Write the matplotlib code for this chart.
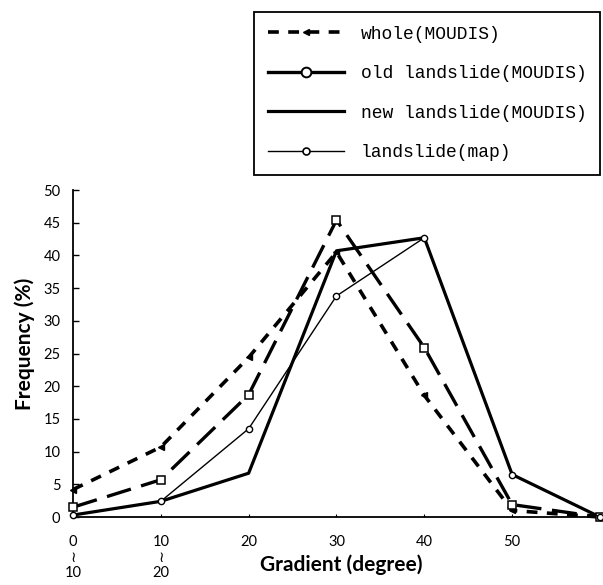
import matplotlib
matplotlib.use("Agg")
import matplotlib.pyplot as plt
from matplotlib.lines import Line2D

# Slope classes (degrees), lower bound of each 10 degree class
gradient = [0, 10, 20, 30, 40, 50, 60]
tick_pos = [0, 10, 20, 30, 40, 50]
tick_labels = ["0\n\u2240\n10", "10\n\u2240\n20", "20", "30", "40", "50"]

# Frequency (%)
whole_moudis = [4.2, 10.7, 24.4, 40.5, 18.6, 1.0, 0.0]
old_moudis = [1.5, 5.7, 18.7, 45.4, 25.9, 1.9, 0.0]
new_moudis = [0.3, 2.4, 6.7, 40.7, 42.7, 6.5, 0.0]
map_slide = [0.3, 2.4, 13.5, 33.8, 42.7, 6.5, 0.0]

labels = ["whole(MOUDIS)", "old landslide(MOUDIS)",
          "new landslide(MOUDIS)", "landslide(map)"]

sans = ["Lato", "DejaVu Sans"]

fig = plt.figure(figsize=(6.03, 5.85), dpi=100)
ax = fig.add_axes([0.121, 0.1162, 0.874, 0.559])

ax.plot(gradient, whole_moudis, color="black", lw=2.6, ls=(0, (3, 2.6)),
        marker="<", ms=4.5, mfc="black", clip_on=False, zorder=3)
ax.plot(gradient, old_moudis, color="black", lw=2.4, ls=(0, (7.5, 3.2)),
        marker="s", ms=5.5, mfc="white", mew=1.1, clip_on=False, zorder=4)
ax.plot(gradient, new_moudis, color="black", lw=2.3, ls="-",
        clip_on=False, zorder=3)
ax.plot(gradient, map_slide, color="black", lw=1.0, ls="-",
        marker="o", ms=4.5, mfc="white", mew=1.0, clip_on=False, zorder=5)

ax.set_xlim(0, 60)
ax.set_ylim(0, 50)
ax.set_yticks(range(0, 51, 5))
ax.set_xticks(tick_pos)
ax.set_xticklabels(tick_labels, family=sans, fontsize=10.5, linespacing=1.15,
                   va="top")
for t in ax.get_yticklabels():
    t.set_family(sans)
    t.set_fontsize(10.5)

ax.tick_params(axis="y", direction="in", length=4, width=1, pad=9)
ax.tick_params(axis="x", direction="in", length=2.5, width=0.8, pad=13)

for side in ["top", "right"]:
    ax.spines[side].set_visible(False)
ax.spines["left"].set_linewidth(1.3)
ax.spines["bottom"].set_linewidth(1.3)

ax.set_ylabel("Frequency (%)", family=sans, fontsize=15, weight="bold")
ax.yaxis.set_label_coords(-0.072, 0.53)
ax.set_xlabel("Gradient (degree)", family=sans, fontsize=15, weight="bold")
ax.xaxis.set_label_coords(0.509, -0.147)
ax.xaxis.label.set_va("center")

# legend samples drawn solid like in the original key
handles = [
    Line2D([], [], color="black", lw=2.6, ls=(0, (3, 2.6)), marker="<",
           ms=4.5, markevery=[1]),
    Line2D([], [], color="black", lw=2.4, marker="o", ms=7, mfc="white",
           mew=1.4, markevery=[1]),
    Line2D([], [], color="black", lw=2.3),
    Line2D([], [], color="black", lw=1.0, marker="o", ms=5, mfc="white",
           mew=1.2, markevery=[1]),
]
for h in handles:
    h.set_data([0, 0.5, 1], [0, 0, 0])

leg = fig.legend(handles, labels, loc="upper right",
                 bbox_to_anchor=(600 / 603, 1 - 12 / 585),
                 bbox_transform=fig.transFigure, borderaxespad=0,
                 prop={"family": "Liberation Mono", "size": 13},
                 handlelength=4.2, handletextpad=0.95, labelspacing=1.25,
                 borderpad=0.75, fancybox=False, framealpha=1,
                 edgecolor="black")
leg.get_frame().set_linewidth(1.3)

fig.savefig("out.png", dpi=100)
